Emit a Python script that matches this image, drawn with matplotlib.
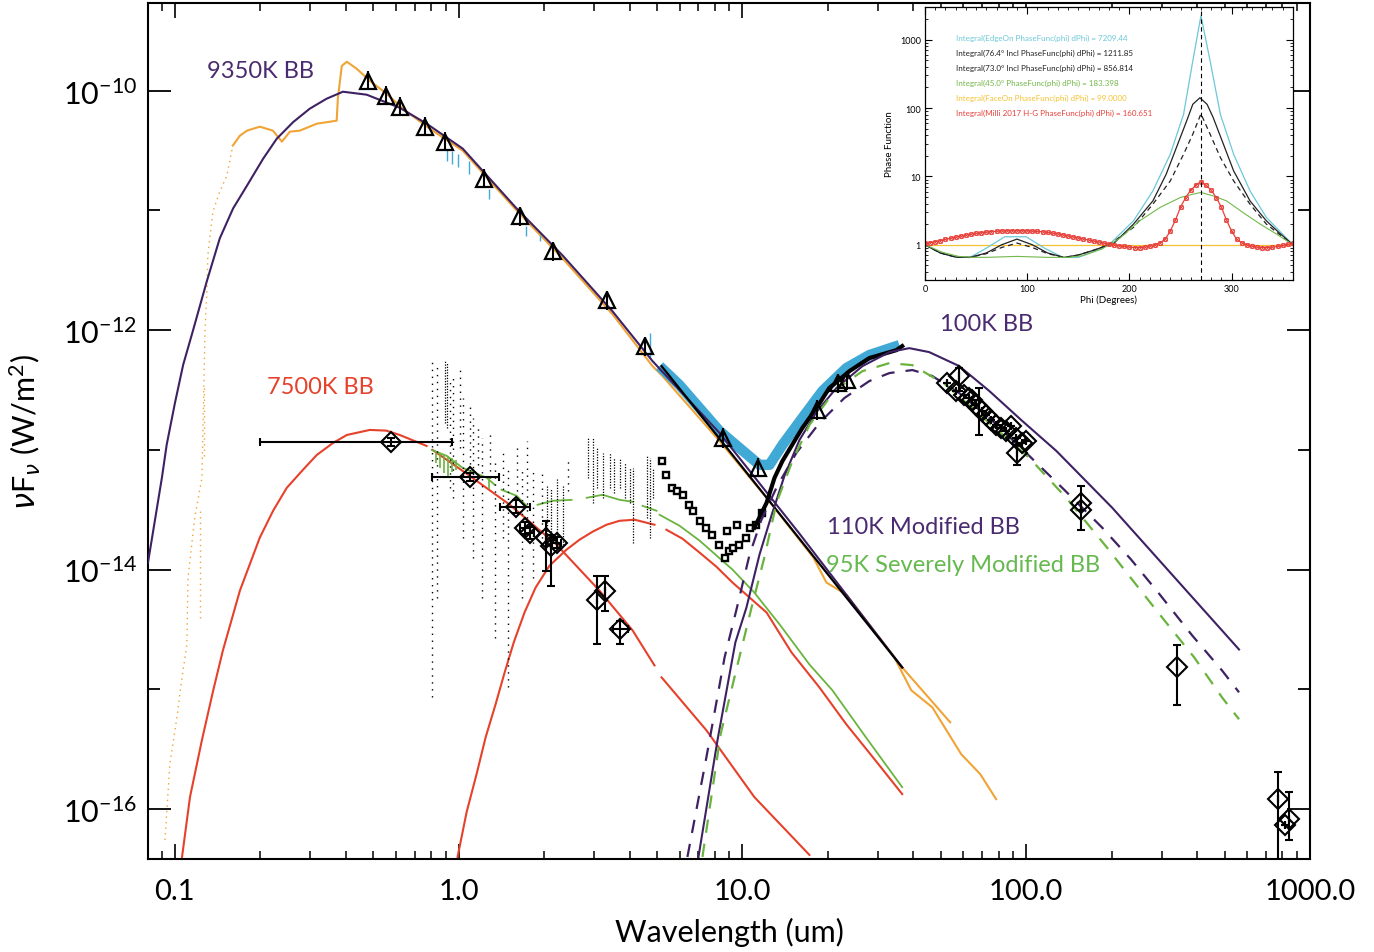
import numpy as np
import matplotlib
matplotlib.use("Agg")
import matplotlib.pyplot as plt
from matplotlib.ticker import FixedLocator, FixedFormatter, NullFormatter, LogLocator, MultipleLocator

plt.rcParams['font.family'] = ['Lato', 'DejaVu Sans']
plt.rcParams['font.weight'] = 'normal'
plt.rcParams['mathtext.fontset'] = 'custom'
plt.rcParams['mathtext.rm'] = 'Lato'
plt.rcParams['mathtext.it'] = 'DejaVu Sans:italic'
plt.rcParams['mathtext.default'] = 'rm'

NAN = np.nan

# ================= MAIN SED DATA  (log10 wavelength [um], log10 nuFnu [W/m^2]) =================
# 9350 K blackbody (star)
bb9350_lw = [-1.095, -1.046, -1.029, -1.0, -0.971, -0.937, -0.888, -0.842, -0.795, -0.746, -0.689, -0.641,
             -0.583, -0.525, -0.466, -0.408, -0.324, -0.208, -0.113, 0.014, 0.204, 0.366, 0.542, 0.683,
             0.919, 1.201, 1.563]
bb9350_lf = [-13.942, -13.233, -12.956, -12.608, -12.289, -12.008, -11.594, -11.233, -10.983, -10.792,
             -10.567, -10.4, -10.261, -10.15, -10.067, -10.008, -10.033, -10.142, -10.275, -10.483, -10.983,
             -11.375, -11.842, -12.258, -12.858, -13.7, -14.817]

# stellar spectrum (orange): sparse UV part, main part, two long-wavelength branches
spec_uv_lw = [-1.035, -1.018, -0.993, -0.975, -0.958, -0.954, -0.930, -0.905, -0.898, -0.894, -0.887,
              -0.884, -0.866, -0.842, -0.817, -0.796]
spec_uv_lf = [-16.258, -15.625, -15.233, -14.9, -14.625, -14.067, -13.567, -13.233, -12.458, -12.008,
              -11.65, -11.375, -11.008, -10.842, -10.708, -10.458]
spec_lw = [-0.796, -0.771, -0.746, -0.701, -0.655, -0.623, -0.595, -0.560, -0.5, -0.430, -0.426, -0.412,
           -0.394, -0.359, -0.313, -0.254, -0.197, -0.102, 0.014, 0.204, 0.366, 0.542, 0.683, 0.715,
           0.919, 1.085, 1.250, 1.296, 1.366, 1.535, 1.595, 1.669, 1.771, 1.838, 1.894]
spec_lf = [-10.458, -10.375, -10.333, -10.3, -10.333, -10.425, -10.342, -10.333, -10.275, -10.25, -10.067,
           -9.792, -9.758, -9.817, -9.917, -10.025, -10.15, -10.317, -10.5, -11.0, -11.4, -11.867, -12.3,
           -12.375, -12.925, -13.4, -13.9, -14.108, -14.208, -14.733, -15.008, -15.15, -15.542, -15.708,
           -15.917]
spec_b2_lw = [1.482, 1.563, 1.732]
spec_b2_lf = [-14.567, -14.817, -15.275]
spec_uvcol_lw = [-0.912, -0.898]
spec_uvcol_top = [-13.5, -12.46]
spec_uvcol_bot = [-14.4, -13.05]

# Rayleigh-Jeans extension (black straight line)
rj_lw = [0.715, 1.563]
rj_lf = [-12.3, -14.817]

# 7500 K blackbody (red)
bb7500_lw = [-0.975, -0.947, -0.905, -0.865, -0.831, -0.771, -0.701, -0.654, -0.606, -0.548, -0.5, -0.443,
             -0.394, -0.313, -0.255, -0.208, -0.113, NAN,
             -0.092, 0.039, 0.180, 0.345, 0.496, 0.613, 0.690, NAN, 0.715, 0.873, 1.042, 1.236]
bb7500_lf = [-16.4, -15.9, -15.425, -15.008, -14.675, -14.175, -13.733, -13.508, -13.317, -13.164, -13.042,
             -12.942, -12.875, -12.833, -12.839, -12.875, -12.967, NAN,
             -13.0, -13.217, -13.458, -13.792, -14.175, -14.508, -14.8, NAN, -14.9, -15.342, -15.9, -16.383]

# warm dust component (red)
warm_lw = [-0.004, 0.028, 0.063, 0.095, 0.130, 0.162, 0.194, 0.232, 0.271, 0.320, 0.380, 0.426, 0.472,
           0.521, 0.567, 0.620, 0.690, NAN, 0.732, 0.789, 0.849, 0.908, 0.965, 1.085, 1.173, 1.271, 1.366,
           1.465, 1.563]
warm_lf = [-16.4, -16.025, -15.708, -15.4, -15.125, -14.858, -14.608, -14.358, -14.15, -13.967, -13.833,
           -13.75, -13.683, -13.625, -13.592, -13.583, -13.625, NAN, -13.667, -13.742, -13.858, -13.975,
           -14.108, -14.358, -14.692, -14.983, -15.292, -15.583, -15.875]

# total model (green solid)
tot_lw = [-0.095, -0.042, 0.014, 0.099, 0.127, NAN, 0.151, 0.204, 0.239, NAN, 0.278, 0.331, 0.398, NAN,
          0.451, 0.507, 0.567, 0.613, NAN, 0.648, 0.697, NAN, 0.708, 0.778, 0.849, 0.965, 1.042, 1.134,
          1.236, 1.317, 1.440, 1.563]
tot_lf = [-13.0, -13.05, -13.15, -13.233, -13.292, NAN, -13.333, -13.383, -13.467, NAN, -13.458, -13.425,
          -13.417, NAN, -13.4, -13.375, -13.417, -13.433, NAN, -13.467, -13.508, NAN, -13.542, -13.633,
          -13.758, -14.0, -14.192, -14.467, -14.792, -15.008, -15.417, -15.817]
# near-IR green spectrum spikes
gspec_lw = [-0.081, -0.067, -0.053, -0.039, -0.025, -0.011, 0.106]
gspec_top = [-13.008, -13.025, -13.033, -13.05, -13.067, -13.083, -13.233]
gspec_bot = [-13.108, -13.15, -13.192, -13.217, -13.183, -13.167, -13.325]

# 100 K blackbody (purple solid)
bb100_lw = [0.845, 0.912, 0.975, 1.014, 1.060, 1.102, 1.148, 1.201, 1.261, 1.331, 1.423, 1.518, 1.588,
            1.658, 1.764, 1.870, 1.986, 2.106, 2.303, 2.539, 2.750]
bb100_lf = [-16.4, -15.425, -14.608, -14.317, -13.875, -13.55, -13.217, -12.917, -12.683, -12.483, -12.3,
            -12.183, -12.15, -12.183, -12.3, -12.508, -12.758, -13.008, -13.483, -14.108, -14.667]

# 110 K modified blackbody (purple dashed)
mbb110_lw = [0.806, 0.873, 0.937, 0.979, 1.025, 1.067, 1.123, 1.190, 1.271, 1.359, 1.447, 1.518, 1.599,
             1.669, 1.764, 1.870, 2.0, 2.134, 2.268, 2.370, 2.468, 2.585, 2.690, 2.750]
mbb110_lf = [-16.4, -15.567, -14.733, -14.333, -13.875, -13.583, -13.3, -13.025, -12.775, -12.567, -12.425,
             -12.358, -12.333, -12.383, -12.525, -12.733, -13.025, -13.333, -13.65, -13.917, -14.2, -14.55,
             -14.842, -15.025]

# 95 K severely modified blackbody (green dashed)
smbb95_lw = [0.859, 0.923, 0.989, 1.032, 1.077, 1.120, 1.176, 1.236, 1.306, 1.352, 1.423, 1.518, 1.599,
             1.718, 1.870, 2.011, 2.141, 2.282, 2.387, 2.479, 2.592, 2.690, 2.750]
smbb95_lf = [-16.4, -15.375, -14.733, -14.317, -13.9, -13.442, -13.092, -12.792, -12.567, -12.458, -12.342,
             -12.275, -12.292, -12.458, -12.775, -13.067, -13.4, -13.808, -14.125, -14.4, -14.733, -15.067,
             -15.25]

# IRS-like spectrum (blue band) and black spectrum on top of it
irs_blue_lw = [0.708, 0.778, 0.919, 0.989, 1.060, 1.095, 1.141, 1.211, 1.282, 1.366, 1.447, 1.553]
irs_blue_lf = [-12.3, -12.458, -12.842, -12.983, -13.125, -13.125, -12.958, -12.733, -12.508, -12.317,
               -12.208, -12.125]
irs_black_lw = [1.042, 1.085, 1.113, 1.141, 1.211, 1.261, 1.306, 1.377, 1.447, 1.542, 1.563]
irs_black_lf = [-13.65, -13.442, -13.233, -13.092, -12.817, -12.65, -12.483, -12.342, -12.233, -12.167,
                -12.133]
blue_dot_lw = [-0.042, -0.025, -0.004, 0.035, 0.106, 0.236, 0.285, 0.673]
blue_dot_top = [-10.483, -10.5, -10.525, -10.583, -10.817, -11.133, -11.208, -12.025]
blue_dot_bot = [-10.583, -10.608, -10.633, -10.692, -10.9, -11.217, -11.258, -12.233]

# low-resolution spectrum (black squares)
sq_lw = [0.718, 0.732, 0.750, 0.768, 0.789, 0.813, 0.824, 0.849, 0.873, 0.894, 0.919, 0.937, 0.944, 0.954,
         0.965, 0.982, 0.989, 1.014, 1.025, 1.049, 1.070]
sq_lf = [-13.092, -13.208, -13.317, -13.342, -13.375, -13.458, -13.508, -13.592, -13.65, -13.708, -13.792,
         -13.9, -13.675, -13.842, -13.817, -13.625, -13.792, -13.733, -13.65, -13.625, -13.525]

# noisy near-IR spectrum (black dots): sparse columns and dense columns
noise_lw = [-0.095, -0.077, -0.032, -0.021, 0.004, 0.014, 0.039, 0.049, 0.067, 0.081, 0.109, 0.127,
            0.155, 0.173, 0.204, 0.222, 0.239, 0.261, 0.292, 0.384]
noise_top = [-12.233, -12.275, -12.4, -12.4, -12.317, -12.567, -12.625, -12.733, -12.792, -12.9, -12.833,
             -13.067, -13.0, -13.15, -12.942, -13.15, -12.925, -13.15, -13.167, -13.083]
noise_bot = [-15.067, -14.233, -13.317, -13.4, -12.983, -13.733, -13.175, -13.9, -13.125, -14.233,
             -13.233, -14.567, -13.733, -14.983, -13.4, -14.233, -13.625, -14.067, -13.792, -13.342]
dense_lw = [-0.049, -0.042, 0.310, 0.327, 0.345, 0.366, 0.454, 0.472, 0.489, 0.507, 0.532, 0.549, 0.567,
            0.585, 0.602, 0.613, 0.662, 0.673, 0.683]
dense_top = [-12.25, -12.275, -13.292, -13.317, -13.233, -13.292, -12.9, -12.9, -12.983, -13.025, -13.025,
             -13.067, -13.067, -13.108, -13.15, -13.15, -13.042, -13.067, -13.15]
dense_bot = [-12.775, -12.817, -13.792, -13.775, -13.733, -13.792, -13.233, -13.442, -13.317, -13.4,
             -13.317, -13.358, -13.317, -13.4, -13.442, -13.775, -13.567, -13.733, -13.4]

# photometry (triangles)
tri_lw = [-0.320, -0.257, -0.208, -0.120, -0.049, 0.088, 0.215, 0.331, 0.521, 0.655, 0.930, 1.056, 1.261,
          1.335, 1.370]
tri_lf = [-9.917, -10.042, -10.133, -10.3, -10.425, -10.733, -11.05, -11.342, -11.75, -12.133, -12.9,
          -13.15, -12.667, -12.442, -12.417]
tri_err = 0.08  # dex

# photometry (diamonds): log wl, log flux, flux low/high, wl low/high
dia_lw = [-0.239, 0.039, 0.201, 0.232, 0.25, 0.306, 0.327, 0.345, 0.486, 0.514, 0.570,
          1.722, 1.764, 1.754, 1.782, 1.799, 1.810, 1.824, 1.835, 1.845, 1.859, 1.877, 1.894, 1.912,
          1.930, 1.947, 1.965, 1.968, 1.986, 2.0, 2.194, 2.194, 2.532, 2.887, 2.912, 2.926]
dia_lf = [-12.933, -13.225, -13.475, -13.65, -13.692, -13.733, -13.8, -13.775, -14.25, -14.175, -14.5,
          -12.442, -12.383, -12.508, -12.542, -12.567, -12.583, -12.625, -12.65, -12.675, -12.708, -12.75,
          -12.792, -12.817, -12.842, -12.8, -12.9, -13.025, -12.942, -12.925, -13.442, -13.5, -14.817,
          -15.917, -16.133, -16.083]
dia_lf_lo = [-12.97, -13.26, -13.53, -13.7, -13.74, -14.008, -14.133, -13.82, -14.625, -14.342, -14.625,
             -12.442, -12.508, -12.508, -12.542, -12.567, -12.583, -12.625, -12.875, -12.675, -12.708,
             -12.75, -12.792, -12.817, -12.842, -12.8, -12.9, -13.125, -12.942, -12.925, -13.667, -13.5,
             -15.133, -16.6, -16.133, -16.258]
dia_lf_hi = [-12.9, -13.19, -13.42, -13.6, -13.64, -13.592, -13.708, -13.73, -14.05, -14.05, -14.425,
             -12.442, -12.317, -12.508, -12.542, -12.567, -12.583, -12.625, -12.483, -12.675, -12.708,
             -12.75, -12.792, -12.817, -12.842, -12.8, -12.9, -12.9, -12.942, -12.925, -13.3, -13.5,
             -14.633, -15.692, -16.133, -15.858]
dia_lw_lo = [-0.701, -0.095, 0.144, 0.215, 0.235, 0.306, 0.327, 0.33, 0.486, 0.514, 0.545] + \
            [1.722, 1.764, 1.754, 1.782, 1.799, 1.810, 1.824, 1.835, 1.845, 1.859, 1.877, 1.894, 1.912,
             1.930, 1.947, 1.965, 1.968, 1.986, 2.0, 2.194, 2.194, 2.532, 2.887, 2.912, 2.926]
dia_lw_hi = [-0.025, 0.141, 0.25, 0.25, 0.265, 0.306, 0.327, 0.36, 0.486, 0.514, 0.595] + \
            [1.722, 1.764, 1.754, 1.782, 1.799, 1.810, 1.824, 1.835, 1.845, 1.859, 1.877, 1.894, 1.912,
             1.930, 1.947, 1.965, 1.968, 1.986, 2.0, 2.194, 2.194, 2.532, 2.887, 2.912, 2.926]

x_ticks = [0.1, 1.0, 10.0, 100.0, 1000.0]
x_ticklabels = ['0.1', '1.0', '10.0', '100.0', '1000.0']
y_ticks = [1e-16, 1e-14, 1e-12, 1e-10]
y_ticklabels = [r'$10^{-16}$', r'$10^{-14}$', r'$10^{-12}$', r'$10^{-10}$']
y_minor = [1e-15, 1e-13, 1e-11]

# ================= INSET: phase functions (phi [deg], log10 phase function) =================
edge_phi = [0, 15, 30, 44, 60, 78, 99, 117, 135, 150, 165, 180, 184, 204, 223, 240, 253, 262, 270, 279,
            289, 302, 318, 334, 347, 360]
edge_lpf = [0, -0.12, -0.18, -0.185, -0.05, 0.117, 0.117, -0.05, -0.185, -0.185, -0.1, 0.0, 0.058, 0.35,
            0.788, 1.324, 1.908, 2.686, 3.35, 2.686, 1.908, 1.324, 0.788, 0.4, 0.2, 0]
i764_phi = [0, 15, 30, 44, 60, 75, 90, 105, 120, 136, 150, 165, 180, 184, 204, 223, 236, 246, 256, 262,
            269, 276, 282, 292, 302, 318, 334, 347, 360]
i764_lpf = [0, -0.12, -0.18, -0.185, -0.12, 0.0, 0.083, 0.0, -0.12, -0.185, -0.15, -0.08, 0.0, 0.01,
            0.302, 0.642, 1.032, 1.422, 1.81, 2.054, 2.15, 2.054, 1.86, 1.47, 1.08, 0.642, 0.35, 0.17, 0]
i730_phi = [0, 15, 30, 44, 60, 75, 90, 105, 120, 136, 150, 165, 180, 204, 223, 240, 253, 262, 270, 279,
            289, 302, 318, 334, 347, 360]
i730_lpf = [0, -0.12, -0.18, -0.185, -0.13, -0.04, 0.025, -0.04, -0.13, -0.185, -0.15, -0.08, 0.0, 0.254,
            0.594, 0.934, 1.324, 1.616, 1.915, 1.616, 1.276, 0.934, 0.594, 0.302, 0.15, 0]
i450_phi = [0, 17, 33, 46, 60, 90, 120, 140, 154, 173, 191, 210, 230, 250, 262, 270, 282, 295, 311, 328,
            344, 360]
i450_lpf = [0, -0.11, -0.17, -0.184, -0.184, -0.17, -0.184, -0.184, -0.16, -0.063, 0.1, 0.35, 0.546, 0.692,
            0.74, 0.765, 0.715, 0.642, 0.473, 0.302, 0.156, 0]
face_phi = [0, 360]
face_lpf = [0, 0]
hg_phi = list(range(0, 361, 5))
hg_lpf = [0.02, 0.03, 0.045, 0.06, 0.08, 0.095, 0.11, 0.125, 0.14, 0.155, 0.165, 0.175, 0.185, 0.192, 0.198,
          0.202, 0.204, 0.205, 0.205, 0.205, 0.204, 0.2, 0.195, 0.19, 0.18, 0.17, 0.16, 0.145, 0.13, 0.115,
          0.1, 0.085, 0.07, 0.055, 0.04, 0.025, 0.01, 0.0, -0.015, -0.025, -0.035, -0.04, -0.04, -0.035,
          -0.02, 0.0, 0.03, 0.08, 0.2, 0.36, 0.55, 0.69, 0.8, 0.87, 0.925, 0.87, 0.8, 0.69, 0.55, 0.36, 0.2,
          0.08, 0.03, 0.0, -0.02, -0.035, -0.04, -0.04, -0.035, -0.025, -0.01, 0.005, 0.02]
peak_phi = 270
inset_lines = [
    ("Integral(EdgeOn PhaseFunc(phi) dPhi) = 7209.44", '#6cc8d8'),
    ("Integral(76.4\u00b0 Incl PhaseFunc(phi) dPhi) = 1211.85", '#222222'),
    ("Integral(73.0\u00b0 Incl PhaseFunc(phi) dPhi) = 856.814", '#222222'),
    ("Integral(45.0\u00b0 PhaseFunc(phi) dPhi) = 183.398", '#72b84a'),
    ("Integral(FaceOn PhaseFunc(phi) dPhi) = 99.0000", '#f5c232'),
    ("Integral(Milli 2017 H-G PhaseFunc(phi) dPhi) = 160.651", '#e8403a'),
]


def dex(a):
    return np.power(10.0, np.asarray(a, dtype=float))


PURPLE = '#3e2163'
RED = '#e6412b'
ORANGE = '#f0a436'
GREEN = '#6ab43e'
BLUE = '#41a9d6'

fig = plt.figure(figsize=(13.74, 9.53), dpi=100)
ax = fig.add_axes([0.1077, 0.0976, 0.8457, 0.8982])
ax.set_xscale('log')
ax.set_yscale('log')
ax.set_xlim(10 ** -1.095, 1000)
ax.set_ylim(10 ** -16.417, 10 ** -9.267)

# orange stellar spectrum
ax.plot(dex(spec_uv_lw), dex(spec_uv_lf), color=ORANGE, lw=1.0, ls=(0, (1, 3)), zorder=2)
ax.vlines(dex(spec_uvcol_lw), dex(spec_uvcol_bot), dex(spec_uvcol_top), colors=ORANGE, lw=1.0,
          linestyles=(0, (1, 3)), zorder=2)
ax.plot(dex(spec_lw), dex(spec_lf), color=ORANGE, lw=1.5, zorder=2)
ax.plot(dex(spec_b2_lw), dex(spec_b2_lf), color=ORANGE, lw=1.5, zorder=2)

# blue IRS band
ax.plot(dex(irs_blue_lw), dex(irs_blue_lf), color=BLUE, lw=7.5, solid_capstyle='butt',
        solid_joinstyle='round', zorder=3)
ax.vlines(dex(blue_dot_lw), dex(blue_dot_bot), dex(blue_dot_top), colors=BLUE, lw=1.0, zorder=3)

# star models
ax.plot(dex(bb9350_lw), dex(bb9350_lf), color=PURPLE, lw=1.5, zorder=4)
ax.plot(dex(rj_lw), dex(rj_lf), color='black', lw=1.6, zorder=5)

# red and green curves
ax.plot(dex(bb7500_lw), dex(bb7500_lf), color=RED, lw=1.5, zorder=4)
ax.plot(dex(warm_lw), dex(warm_lf), color=RED, lw=1.5, zorder=4)
ax.plot(dex(tot_lw), dex(tot_lf), color=GREEN, lw=1.3, zorder=4)
ax.vlines(dex(gspec_lw), dex(gspec_bot), dex(gspec_top), colors=GREEN, lw=1.2, zorder=4)

# noisy near-IR spectrum
ax.vlines(dex(noise_lw), dex(noise_bot), dex(noise_top), colors='black', lw=1.0,
          linestyles=(0, (1, 4)), zorder=5)
ax.vlines(dex(dense_lw), dex(dense_bot), dex(dense_top), colors='black', lw=0.9,
          linestyles=(0, (1, 1.2)), zorder=5)
ax.plot(dex(sq_lw), dex(sq_lf), ls='none', marker='s', ms=5, mfc='white', mec='black', mew=1.7, zorder=5)
ax.plot(dex(irs_black_lw), dex(irs_black_lf), color='black', lw=3.0, zorder=5)

# dust models
ax.plot(dex(bb100_lw), dex(bb100_lf), color=PURPLE, lw=1.5, zorder=6)
ax.plot(dex(mbb110_lw), dex(mbb110_lf), color=PURPLE, lw=1.6, ls=(0, (6, 5)), zorder=6)
ax.plot(dex(smbb95_lw), dex(smbb95_lf), color=GREEN, lw=1.6, ls=(0, (6, 5)), zorder=6)

# triangles
tri_x = dex(tri_lw)
tri_y = dex(tri_lf)
ax.errorbar(tri_x, tri_y, yerr=[tri_y - tri_y * 10 ** -tri_err, tri_y * 10 ** tri_err - tri_y],
            fmt='none', ecolor='black', elinewidth=1.5, zorder=7)
ax.plot(tri_x, tri_y, ls='none', marker='^', ms=12, mfc='none', mec='black', mew=1.6, zorder=8)

# diamonds
dx = dex(dia_lw)
dy = dex(dia_lf)
ax.errorbar(dx, dy, xerr=[dx - dex(dia_lw_lo), dex(dia_lw_hi) - dx],
            yerr=[dy - dex(dia_lf_lo), dex(dia_lf_hi) - dy],
            fmt='none', ecolor='black', elinewidth=1.5, capsize=3, capthick=1.5, zorder=7)
ax.plot(dx, dy, ls='none', marker='D', ms=10, mfc='none', mec='black', mew=1.5, zorder=8)

# ticks
ax.xaxis.set_major_locator(FixedLocator(x_ticks))
ax.xaxis.set_major_formatter(FixedFormatter(x_ticklabels))
ax.xaxis.set_minor_locator(LogLocator(base=10, subs=np.arange(2, 10)))
ax.xaxis.set_minor_formatter(NullFormatter())
ax.yaxis.set_major_locator(FixedLocator(y_ticks))
ax.yaxis.set_major_formatter(FixedFormatter(y_ticklabels))
ax.yaxis.set_minor_locator(FixedLocator(y_minor))
ax.yaxis.set_minor_formatter(NullFormatter())
ax.tick_params(which='both', direction='in', top=True, right=True, colors='black')
ax.tick_params(axis='x', which='major', length=11, width=1.2, labelsize=21, pad=14)
ax.tick_params(axis='x', which='minor', length=5.5, width=1.1)
ax.tick_params(axis='y', which='major', length=16.5, width=1.3, labelsize=22, pad=8)
ax.tick_params(axis='y', which='minor', length=8.6, width=1.3)
for s in ax.spines.values():
    s.set_linewidth(1.5)

ax.set_xlabel('Wavelength (um)', fontsize=22)
ax.xaxis.set_label_coords(0.5, -0.068)
ax.set_ylabel(r'$\mathit{\nu}$F$_{\mathit{\nu}}$ (W/m$^2$)', fontsize=22)
ax.yaxis.set_label_coords(-0.09, 0.5)

# component labels
ax.text(0.0508, 0.9206, '9350K BB', color='#4a2a70', fontsize=17, transform=ax.transAxes, va='center')
ax.text(0.1024, 0.5514, '7500K BB', color=RED, fontsize=17, transform=ax.transAxes, va='center')
ax.text(0.6816, 0.6250, '100K BB', color='#4a2a70', fontsize=17, transform=ax.transAxes, va='center')
ax.text(0.5843, 0.3879, '110K Modified BB', color='#4a2a70', fontsize=17, transform=ax.transAxes,
        va='center')
ax.text(0.5835, 0.3446, '95K Severely Modified BB', color='#66b94f', fontsize=17,
        transform=ax.transAxes, va='center')

# ================= INSET =================
ax2 = fig.add_axes([0.6732, 0.7051, 0.2678, 0.2865])
ax2.set_zorder(10)
ax2.set_facecolor('white')
ax2.set_yscale('log')
ax2.set_xlim(0, 360)
ax2.set_ylim(0.305, 3000)
ax2.plot(face_phi, dex(face_lpf), color='#f5c232', lw=0.9)
ax2.plot(edge_phi, dex(edge_lpf), color='#6cc8d8', lw=0.9)
ax2.plot(i764_phi, dex(i764_lpf), color='#222222', lw=0.9)
ax2.plot(i730_phi, dex(i730_lpf), color='#222222', lw=0.9, ls=(0, (4, 3)))
ax2.plot(i450_phi, dex(i450_lpf), color='#72b84a', lw=0.8)
ax2.plot(hg_phi, dex(hg_lpf), color='#e8403a', lw=0.9, marker='o', ms=3.0, mfc='none', mew=0.7)
ax2.plot(hg_phi, dex(hg_lpf), ls='none', color='#e8403a', marker='x', ms=2.2, mew=0.6)
ax2.axvline(peak_phi, color='black', lw=0.8, ls=(0, (4, 3)))
for i, (txt, col) in enumerate(inset_lines):
    ax2.text(0.083, 0.889 - i * 0.0548, txt, color=col, fontsize=5.8, transform=ax2.transAxes,
             va='center')
ax2.xaxis.set_major_locator(FixedLocator([0, 100, 200, 300]))
ax2.xaxis.set_minor_locator(MultipleLocator(10))
ax2.yaxis.set_major_locator(FixedLocator([1, 10, 100, 1000]))
ax2.yaxis.set_major_formatter(FixedFormatter(['1', '10', '100', '1000']))
ax2.yaxis.set_minor_locator(LogLocator(base=10, subs=np.arange(2, 10)))
ax2.yaxis.set_minor_formatter(NullFormatter())
ax2.tick_params(which='both', direction='in', top=True, right=True, labelsize=6.5)
ax2.tick_params(which='major', length=5, width=0.8, pad=3)
ax2.tick_params(which='minor', length=2.5, width=0.6)
for s in ax2.spines.values():
    s.set_linewidth(0.9)
ax2.set_xlabel('Phi (Degrees)', fontsize=7, labelpad=1)
ax2.set_ylabel('Phase Function', fontsize=7, labelpad=4)

fig.savefig('out.png', dpi=100)
